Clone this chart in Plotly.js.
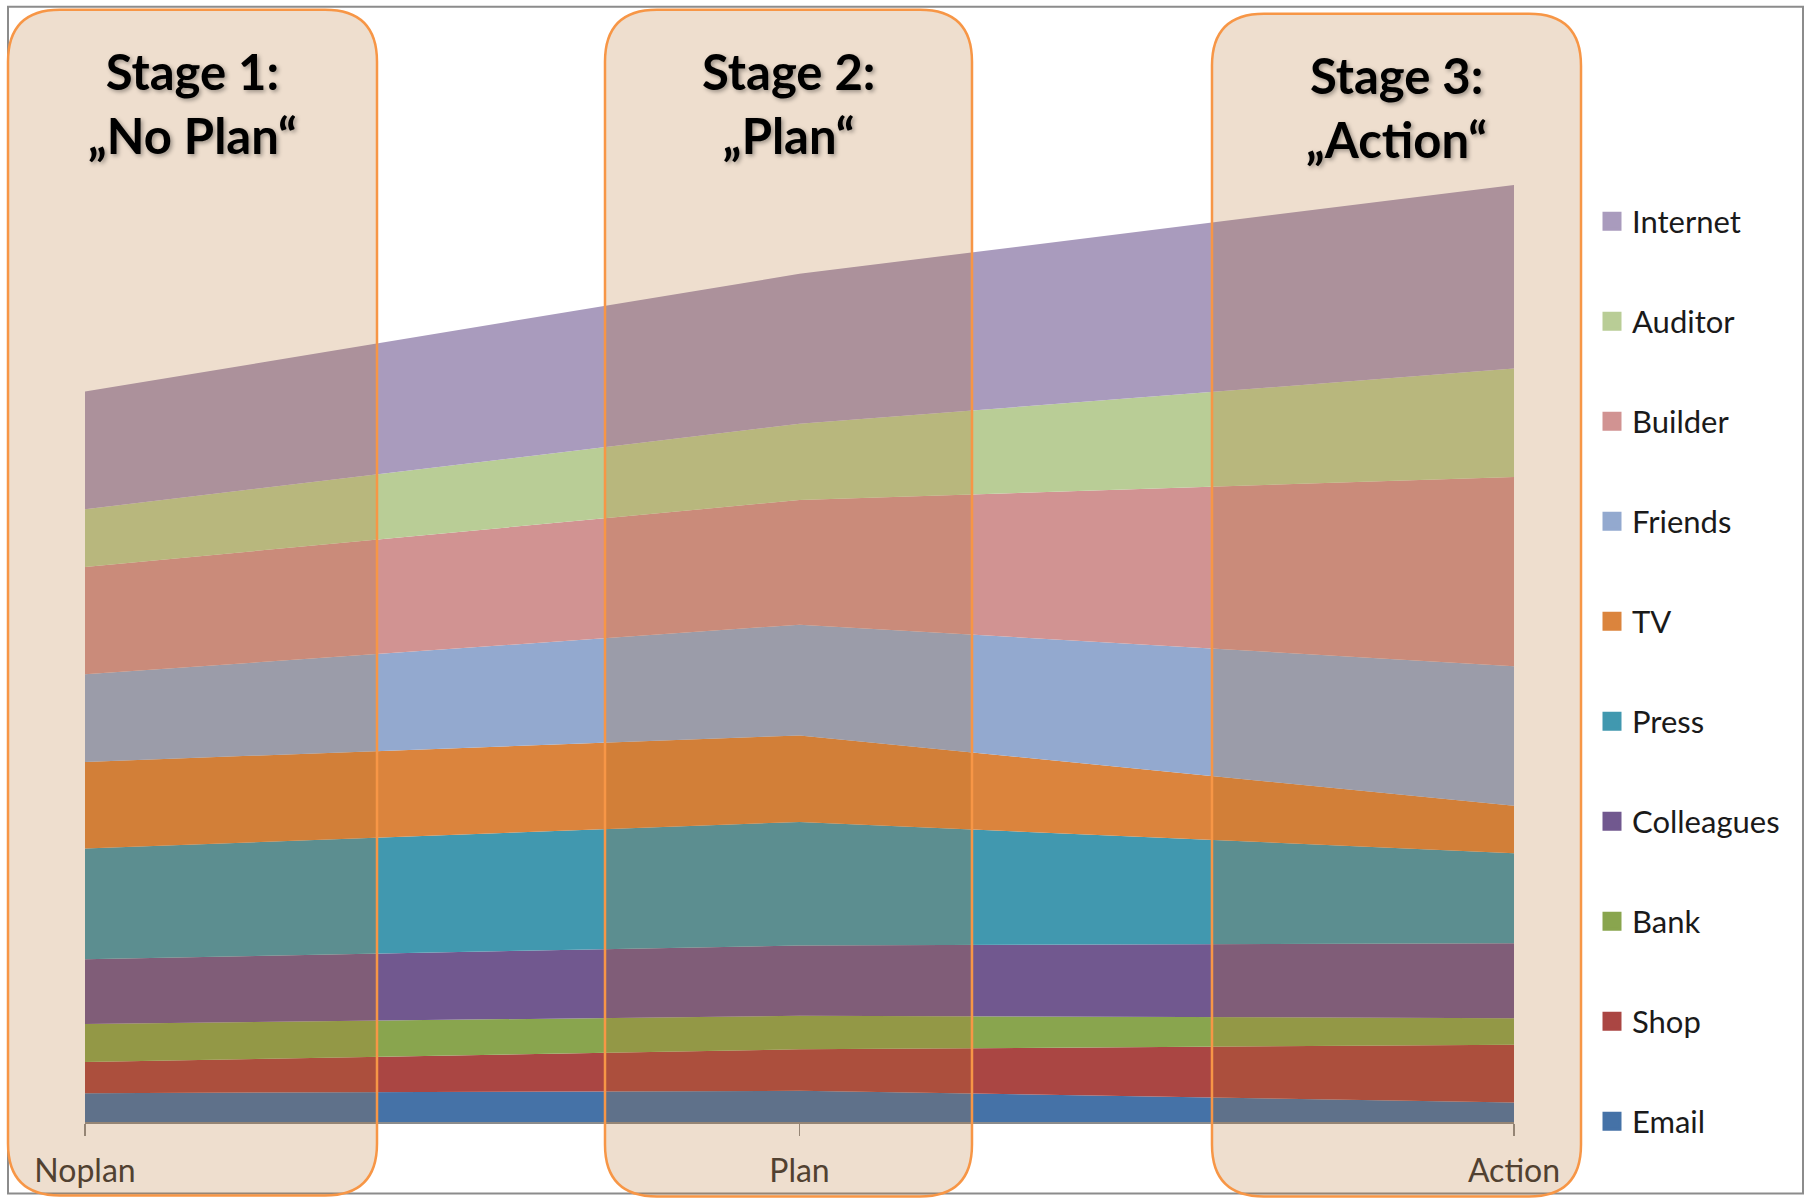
<!DOCTYPE html>
<html>
<head>
<meta charset="utf-8">
<script src="https://cdn.plot.ly/plotly-3.0.1.min.js"></script>
<style>html,body{margin:0;padding:0;background:#fff;}#chart{width:1810px;height:1200px;}</style>
</head>
<body>
<div id="chart"></div>
<script>
// ---- data ----
const stages = ["Noplan", "Plan", "Action"];
const seriesNames = ["Email", "Shop", "Bank", "Colleagues", "Press", "TV", "Friends", "Builder", "Auditor", "Internet"];
const Email      = [25, 27, 17];
const Shop       = [27, 36, 50];
const Bank       = [33, 29, 23];
const Colleagues = [56, 61, 65];
const Press      = [96, 107, 78];
const TV         = [75, 75, 41];
const Friends    = [76, 96, 121];
const Builder    = [93, 108, 164];
const Auditor    = [50, 66, 94];
const Internet   = [102, 130, 159];
const stageTitles = ["Stage 1:<br>\u201ENo Plan\u201C", "Stage 2:<br>\u201EPlan\u201C", "Stage 3:<br>\u201EAction\u201C"];

const seriesValues = [Email, Shop, Bank, Colleagues, Press, TV, Friends, Builder, Auditor, Internet];
const colors = ["#4572A7", "#AA4643", "#89A54E", "#71588F", "#4198AF", "#DB843D", "#93A9CF", "#D19392", "#B9CD96", "#A99BBD"];

// ---- geometry (pixels) ----
const W = 1810, H = 1200;
const L = 85, R = 1514, T = 185.3, B = 1122.5;
const px = x => (x - L) / (R - L);
const py = y => (B - y) / (B - T);

function roundRect(x0, y0, x1, y1, r) {
  const P = (x, y) => px(x).toFixed(5) + "," + py(y).toFixed(5);
  return "M" + P(x0 + r, y0) + " L" + P(x1 - r, y0) + " Q" + P(x1, y0) + " " + P(x1, y0 + r) +
    " L" + P(x1, y1 - r) + " Q" + P(x1, y1) + " " + P(x1 - r, y1) +
    " L" + P(x0 + r, y1) + " Q" + P(x0, y1) + " " + P(x0, y1 - r) +
    " L" + P(x0, y0 + r) + " Q" + P(x0, y0) + " " + P(x0 + r, y0) + " Z";
}

const traces = [];
seriesNames.forEach((name, i) => {
  traces.push({
    type: "scatter", x: stages, y: seriesValues[i], name: name,
    stackgroup: "one", mode: "none", fillcolor: colors[i],
    line: {width: 0}, showlegend: false, hoverinfo: "skip"
  });
});
// legend entries (square markers), top to bottom: Internet ... Email
for (let i = seriesNames.length - 1; i >= 0; i--) {
  traces.push({
    type: "scatter", x: [null], y: [null], name: seriesNames[i], mode: "markers",
    marker: {symbol: "square", size: 16, color: colors[i], line: {color: colors[i], width: 3}},
    legendgroup: "g" + i, showlegend: true, hoverinfo: "skip"
  });
}

const boxes = [[8, 10, 377, 1196], [605, 10, 972, 1197], [1212, 14, 1581, 1197]];
const shapes = [{
  type: "rect", xref: "paper", yref: "paper", x0: px(8), x1: px(1803), y0: py(1194), y1: py(7),
  line: {color: "#8c8c8c", width: 2}, fillcolor: "rgba(0,0,0,0)", layer: "below"
}];
boxes.forEach(b => {
  shapes.push({
    type: "path", xref: "paper", yref: "paper", path: roundRect(b[0], b[1], b[2], b[3], 52),
    fillcolor: "rgba(181,111,42,0.23)", line: {color: "#F79646", width: 2.5}, layer: "above"
  });
});

const titleY = [103, 103, 107];
const annotations = boxes.map((b, i) => ({
  xref: "paper", yref: "paper", x: px((b[0] + b[2]) / 2), y: py(titleY[i]),
  xanchor: "center", yanchor: "middle", showarrow: false, align: "center",
  text: "<b>" + stageTitles[i] + "</b>",
  font: {family: "Lato, 'Open Sans', sans-serif", size: 49, color: "#000", shadow: "2px 2px 4px rgba(0,0,0,0.35)"}
}));

const layout = {
  width: W, height: H,
  margin: {l: L, r: W - R, t: T, b: H - B, pad: 0},
  paper_bgcolor: "#fff", plot_bgcolor: "#fff",
  showlegend: true,
  legend: {
    xref: "container", yref: "container", x: 1592 / W, y: 1 - 194.7 / H,
    xanchor: "left", yanchor: "top", traceorder: "grouped", tracegroupgap: 56.7,
    maxheight: 1150,
    bgcolor: "rgba(0,0,0,0)", borderwidth: 0,
    font: {family: "Lato, 'Open Sans', sans-serif", size: 31, color: "#1a1a1a"}
  },
  xaxis: {
    type: "category", categoryorder: "array", categoryarray: stages, range: [0, 2],
    showgrid: false, zeroline: false, showline: true, linecolor: "#8c8c8c", linewidth: 1.5,
    ticks: "outside", ticklen: 12, tickcolor: "#8c8c8c", tickwidth: 1.5, ticklabelstandoff: 8,
    tickfont: {family: "Lato, 'Open Sans', sans-serif", size: 32, color: "#333"}, fixedrange: true
  },
  yaxis: {
    range: [0, 812], showgrid: false, zeroline: false, showticklabels: false, ticks: "",
    showline: false, fixedrange: true
  },
  shapes: shapes,
  annotations: annotations
};

Plotly.newPlot("chart", traces, layout, {displayModeBar: false, staticPlot: true});
</script>
</body>
</html>
